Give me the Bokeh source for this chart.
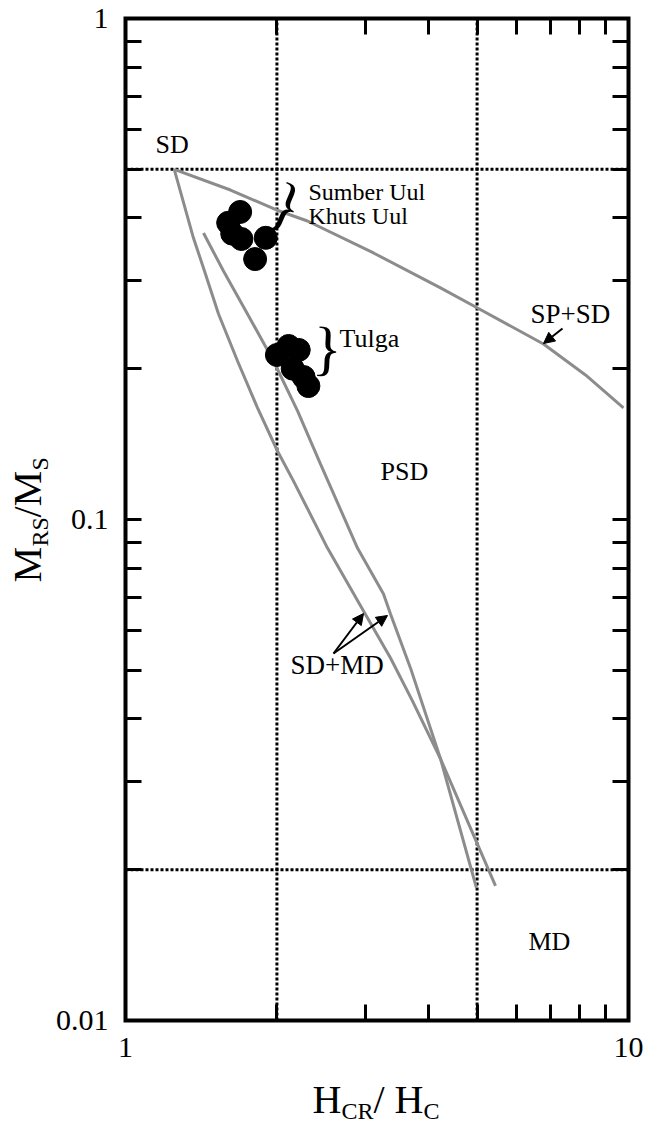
from bokeh.plotting import figure
from bokeh.models import (Range1d, LogAxis, FixedTicker, CustomJSTickFormatter,
                          Label, Arrow, NormalHead)
from bokeh.embed import file_html
from bokeh.resources import INLINE

# ---------------- data ----------------
x_ticks = [1, 10]
x_minor = [2, 3, 4, 5, 6, 7, 8, 9]
y_ticks = [0.01, 0.1, 1]
y_minor = [0.02, 0.03, 0.04, 0.05, 0.06, 0.07, 0.08, 0.09,
           0.2, 0.3, 0.4, 0.5, 0.6, 0.7, 0.8, 0.9]

# domain boundaries (Day et al.)
hcr_hc_bounds = [2, 5]
mrs_ms_bounds = [0.5, 0.02]

# SP+SD mixing curve
sp_sd_hcr_hc = [1.25, 1.617, 1.996, 2.300, 3.112, 4.229, 5.010, 6.776, 8.213, 9.772]
sp_sd_mrs_ms = [0.5, 0.4546, 0.4148, 0.3943, 0.3404, 0.2899, 0.2644, 0.2240, 0.1943, 0.1670]

# SD+MD mixing curves
sd_md1_hcr_hc = [1.25, 1.365, 1.429, 1.531, 1.670, 1.830, 2.005, 2.158, 2.521, 2.973,
                 3.364, 3.721, 4.229, 5.440]
sd_md1_mrs_ms = [0.5, 0.3646, 0.3177, 0.2572, 0.2072, 0.1670, 0.1370, 0.1193, 0.0877, 0.0657,
                 0.0529, 0.0434, 0.0333, 0.01856]
sd_md2_hcr_hc = [1.429, 1.566, 1.748, 1.969, 2.198, 2.442, 2.892, 3.258, 3.364, 3.687,
                 4.229, 4.987]
sd_md2_mrs_ms = [0.3731, 0.3133, 0.2572, 0.2072, 0.1647, 0.1290, 0.0877, 0.0710, 0.0648, 0.0505,
                 0.0333, 0.01838]

# samples
sk_hcr_hc = [1.60, 1.69, 1.63, 1.70, 1.90, 1.81]
sk_mrs_ms = [0.391, 0.411, 0.372, 0.363, 0.365, 0.331]
tulga_hcr_hc = [2.00, 2.11, 2.21, 2.15, 2.26, 2.31]
tulga_mrs_ms = [0.213, 0.222, 0.218, 0.200, 0.1925, 0.1847]

# ---------------- layout ----------------
FONT = "Liberation Serif"
W, H = 649, 1125
LEFT, TOP, DX, DY = 125, 18, 503, 501  # canvas px of the plot box, px per decade
BASE_SHIFT = 0.35  # anchor offset of Bokeh's label baseline, in em


def at(px, py):
    """canvas pixel -> data coordinates (used for placement only)"""
    return 10 ** ((px - LEFT) / DX), 10 ** (-(py - TOP) / DY)


x0, y1 = at(0, 0)
x1, y0 = at(W, H)

p = figure(x_axis_type="log", y_axis_type="log",
           x_range=Range1d(x0, x1), y_range=Range1d(y0, y1),
           width=W, height=H, frame_width=W, frame_height=H,
           min_border=0, min_border_left=0, min_border_right=0,
           min_border_top=0, min_border_bottom=0,
           output_backend="svg", toolbar_location=None)
p.xgrid.grid_line_color = None
p.ygrid.grid_line_color = None
p.outline_line_color = None
p.background_fill_color = "white"
p.border_fill_color = "white"

fmt = CustomJSTickFormatter(code="return tick.toString()")


def style_axis(ax):
    ax.axis_line_color = None
    ax.major_tick_in = 16
    ax.major_tick_out = 0
    ax.minor_tick_in = 16
    ax.minor_tick_out = 0
    ax.major_tick_line_width = 3
    ax.minor_tick_line_width = 3
    ax.major_tick_line_color = "black"
    ax.minor_tick_line_color = "black"
    ax.major_label_text_font = FONT
    ax.major_label_text_font_size = "30px"
    ax.major_label_text_color = "black"


xa = p.xaxis[0]
xa.ticker = FixedTicker(ticks=x_ticks, minor_ticks=x_minor)
xa.formatter = fmt
xa.fixed_location = y_ticks[0]
style_axis(xa)
xa.major_label_standoff = 17

ya = p.yaxis[0]
ya.ticker = FixedTicker(ticks=y_ticks, minor_ticks=y_minor)
ya.formatter = fmt
ya.fixed_location = x_ticks[0]
style_axis(ya)
ya.major_label_standoff = 17

top_ax = LogAxis(ticker=FixedTicker(ticks=[], minor_ticks=x_minor),
                 fixed_location=y_ticks[-1])
style_axis(top_ax)
p.add_layout(top_ax, "above")
right_ax = LogAxis(ticker=FixedTicker(ticks=[], minor_ticks=y_minor + [0.1]),
                   fixed_location=x_ticks[-1])
style_axis(right_ax)
p.add_layout(right_ax, "right")

# plot box
p.quad(left=[x_ticks[0]], right=[x_ticks[-1]], bottom=[y_ticks[0]], top=[y_ticks[-1]],
       fill_color=None, line_color="black", line_width=4, line_join="miter")

# domain boundaries (dotted)
p.segment(x0=hcr_hc_bounds, y0=[y_ticks[0]] * len(hcr_hc_bounds),
          x1=hcr_hc_bounds, y1=[y_ticks[-1]] * len(hcr_hc_bounds),
          line_color="black", line_width=3, line_dash="3 2")
p.segment(x0=[x_ticks[0]] * len(mrs_ms_bounds), y0=mrs_ms_bounds,
          x1=[x_ticks[-1]] * len(mrs_ms_bounds), y1=mrs_ms_bounds,
          line_color="black", line_width=3, line_dash="3 2")

# mixing curves
CURVE = "#8c8c8c"
p.line(sp_sd_hcr_hc, sp_sd_mrs_ms, line_color=CURVE, line_width=3)
p.line(sd_md1_hcr_hc, sd_md1_mrs_ms, line_color=CURVE, line_width=3)
p.line(sd_md2_hcr_hc, sd_md2_mrs_ms, line_color=CURVE, line_width=3)

# samples
p.scatter(sk_hcr_hc, sk_mrs_ms, size=23, color="black")
p.scatter(tulga_hcr_hc, tulga_mrs_ms, size=23, color="black")


def lab(text, px, py, size, angle=0.0, align="left", baseline="alphabetic"):
    """px, py: start of the text on its baseline (canvas px)"""
    if baseline == "alphabetic":
        if angle:
            px -= BASE_SHIFT * size
        else:
            py -= BASE_SHIFT * size
    x, y = at(px, py)
    p.add_layout(Label(x=x, y=y, text=text, text_font=FONT,
                       text_font_size=f"{size}px", text_color="black",
                       text_align=align, text_baseline=baseline, angle=angle))


# region / group labels
lab("SD", 155, 153, 26)
lab("PSD", 380, 480, 26)
lab("MD", 528, 950, 26)
lab("SP+SD", 530, 323, 27)
lab("SD+MD", 290, 674, 27)
lab("Sumber Uul", 308, 200, 24)
lab("Khuts Uul", 308, 224, 24)
lab("Tulga", 339, 347, 26)
lab("}", 286, 205, 60, angle=-0.4, align="center", baseline="middle")
lab("}", 327, 348, 60, angle=-0.05, align="center", baseline="middle")


def arrow(xs_px, ys_px, xe_px, ye_px):
    xs, ys = at(xs_px, ys_px)
    xe, ye = at(xe_px, ye_px)
    p.add_layout(Arrow(end=NormalHead(size=11, fill_color="black", line_color="black"),
                       x_start=xs, y_start=ys, x_end=xe, y_end=ye,
                       line_color="black", line_width=2))


arrow(562, 328, 543, 343)
arrow(333, 653, 363, 613)
arrow(333, 653, 387, 615)

# axis titles built from pieces (subscripts)
lab("H", 312, 1113, 40)
lab("CR", 341, 1119, 24)
lab("/", 373, 1113, 40)
lab("H", 394, 1113, 40)
lab("C", 423, 1119, 24)

ROT = 3.141592653589793 / 2
lab("M", 41, 582, 40, angle=ROT)
lab("RS", 48, 546, 24, angle=ROT)
lab("/", 41, 517, 40, angle=ROT)
lab("M", 41, 506, 40, angle=ROT)
lab("S", 48, 470, 24, angle=ROT)

open("out.html", "w").write(file_html(p, INLINE))
